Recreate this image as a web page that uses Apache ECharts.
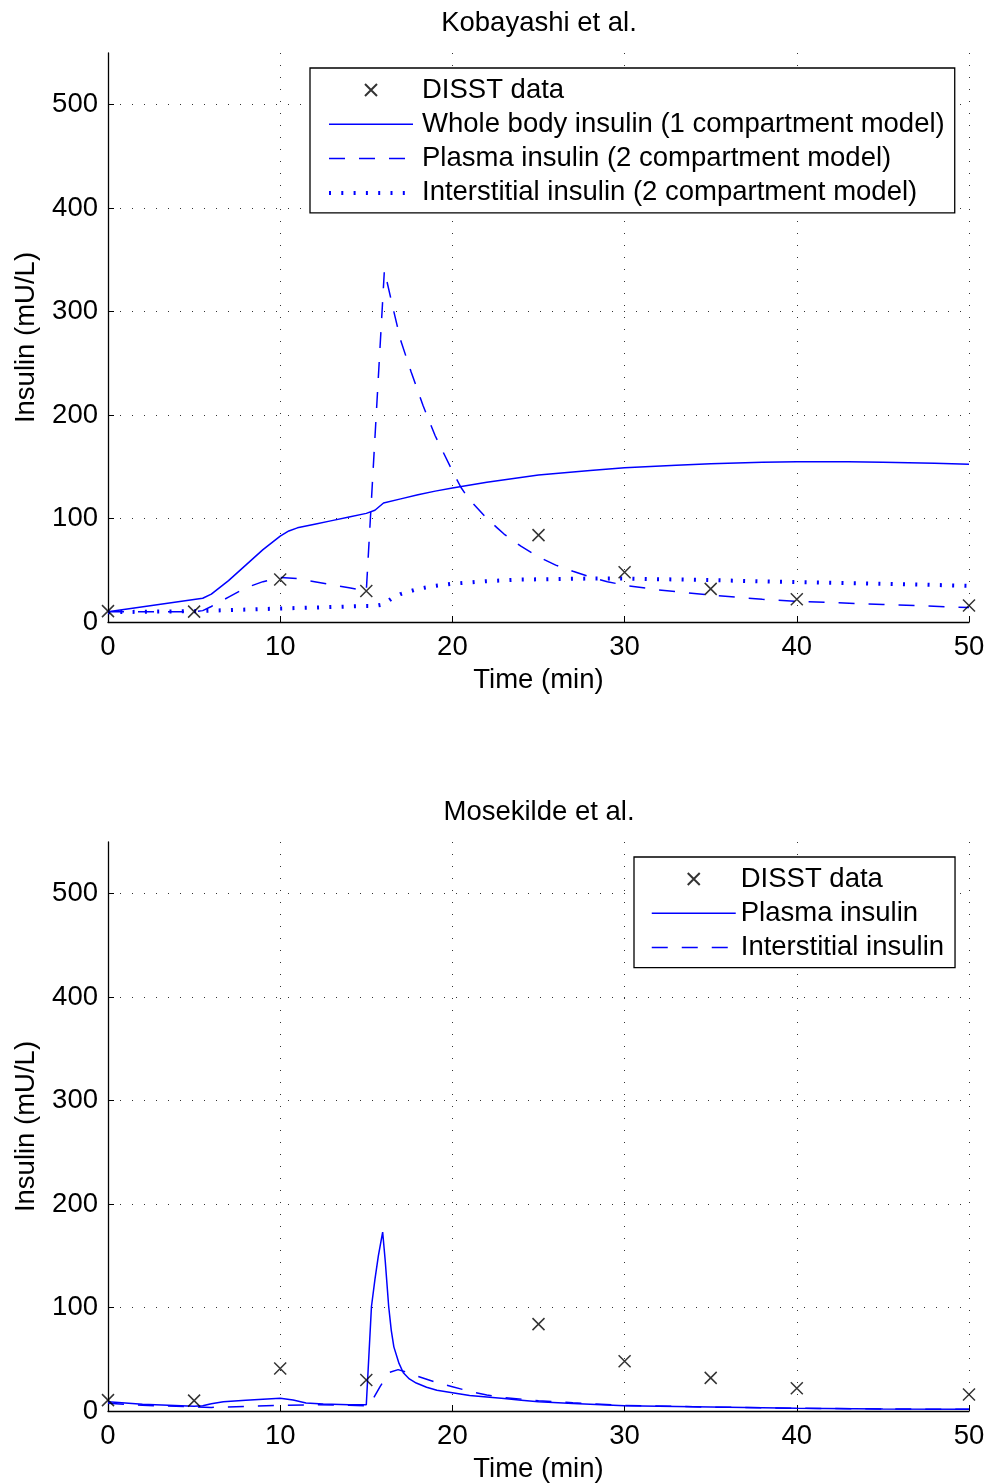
<!DOCTYPE html>
<html>
<head>
<meta charset="utf-8">
<script src="https://cdn.jsdelivr.net/npm/echarts@6/dist/echarts.min.js"></script>
<style>
html,body{margin:0;padding:0;background:#fff;}
#chart{width:990px;height:1484px;}
</style>
</head>
<body>
<div id="chart"></div>
<script>
// ---- data ----
const disstTime = [0, 5, 10, 15, 25, 30, 35, 40, 50];
const disstInsulin = [10.5, 10, 41, 30, 84, 48, 32, 22, 16];

// Kobayashi et al.
const kobWholeTime = [0, 5.5, 6, 7, 8, 9, 10, 10.5, 11, 12, 13, 14, 15, 15.5, 16, 17, 18, 19, 20, 22, 25, 28, 30, 33, 35, 38, 40, 43, 45, 48, 50];
const kobWholeVal  = [10, 23, 27, 40, 55, 70, 83, 88, 91, 94.5, 98, 101.5, 105, 108, 115, 119, 123, 126.5, 129.5, 135, 142, 146.5, 149, 151.5, 153, 154.5, 155, 155, 154.5, 153.5, 152.5];

const kobPlasmaTime = [0, 5, 5.5, 6, 7, 8, 9, 10, 11, 12, 13, 14, 15, 16.05, 16.6, 17, 17.6, 18.3, 19, 20, 20.5, 21, 21.4, 22, 22.6, 23, 24, 25, 26, 27, 28, 29, 30, 32, 35, 38, 40, 45, 50];
const kobPlasmaVal  = [10, 10, 11, 15, 24, 33, 39, 43, 42, 39, 36, 33, 30, 340, 300, 272, 242, 209, 180, 146, 130, 118, 111, 100, 91, 85, 73, 63, 55, 49, 43.5, 39, 35.5, 31, 26, 22, 20, 17, 14];

const kobInterTime = [0, 5, 10, 15, 15.5, 16, 16.5, 17, 18, 19, 20, 22, 24, 26, 28, 30, 35, 40, 45, 50];
const kobInterVal  = [9.5, 10.5, 13, 15.5, 15.5, 17, 23, 27, 32, 35, 37, 39.5, 41, 41.5, 42, 42, 40.5, 38.5, 37, 35];

// Mosekilde et al.
const mosPlasmaTime = [0, 2, 5, 5.5, 6, 6.7, 8, 10, 10.75, 11.5, 12.5, 14, 15, 15.3, 15.5, 15.7, 15.95, 16.1, 16.3, 16.45, 16.6, 16.9, 17.15, 17.5, 17.9, 18.5, 19.1, 20, 21, 22, 23, 24, 25, 27, 30, 35, 40, 45, 50];
const mosPlasmaVal  = [9, 6.5, 4.5, 5, 7, 9, 10.5, 12.3, 10.6, 7.7, 6.8, 6, 6, 101, 127, 150, 173, 145, 101, 78, 62, 46, 37, 31, 27, 23, 20, 17.7, 15, 13.5, 12, 10.5, 9, 7.3, 5, 3.8, 2.7, 2, 1.6];

const mosInterTime = [0, 2, 5, 6, 8, 10, 12, 14, 15, 15.3, 15.8, 16.3, 16.85, 17.25, 18, 19, 20, 21, 22, 23, 25, 27, 30, 35, 40, 45, 50];
const mosInterVal  = [7.5, 5.5, 4, 3.5, 4.5, 5.5, 6, 5.5, 5, 9, 23.5, 37, 40, 38, 33.5, 28, 23.5, 19, 15.5, 13, 10, 8, 5.3, 3.8, 2.7, 2, 1.6];

const xTickStep = 10, xMax = 50;
const yTickStep = 100, yMax = 550;

// ---- chart ----
const FONT = 'Liberation Sans, Arial, Helvetica, sans-serif';
const FS = 27.5;
const pairs = (t, v) => t.map((x, i) => [x, v[i]]);
const xSym = 'path://M0,0L10,10M10,0L0,10';
const DASH = [16, 14];
const DOT = [2, 10.3];

function xAxis(gi) {
  return {
    gridIndex: gi, type: 'value', min: 0, max: xMax, interval: xTickStep,
    name: 'Time (min)', nameLocation: 'middle', nameGap: 44,
    nameTextStyle: {fontSize: FS, color: '#000', fontFamily: FONT},
    axisLine: {lineStyle: {color: '#000', width: 1.3}},
    axisTick: {inside: true, length: 6, lineStyle: {color: '#000', width: 1}},
    axisLabel: {fontSize: FS, color: '#000', fontFamily: FONT, margin: 11},
    splitLine: {show: true, showMinLine: false, lineStyle: {color: '#333', width: 1, type: [1, 11]}}
  };
}
function yAxis(gi) {
  return {
    gridIndex: gi, type: 'value', min: 0, max: yMax, interval: yTickStep,
    name: 'Insulin (mU/L)', nameLocation: 'middle', nameGap: 68, nameRotate: 90,
    nameTextStyle: {fontSize: FS, color: '#000', fontFamily: FONT},
    axisLine: {lineStyle: {color: '#000', width: 1.3}},
    axisTick: {inside: true, length: 6, lineStyle: {color: '#000', width: 1}},
    axisLabel: {fontSize: FS, color: '#000', fontFamily: FONT, margin: 10, showMaxLabel: false,
      formatter: v => (v > 500 ? '' : String(v))},
    splitLine: {show: true, showMinLine: false, showMaxLine: false, lineStyle: {color: '#333', width: 1, type: [1, 11]}}
  };
}
function scatter(gi) {
  return {
    name: 'DISST data', type: 'scatter', xAxisIndex: gi, yAxisIndex: gi,
    data: pairs(disstTime, disstInsulin), symbol: xSym, symbolSize: 12, clip: false, z: 5,
    itemStyle: {color: 'rgba(0,0,0,0)', borderColor: '#000', borderWidth: 1.5},
    emphasis: {disabled: true}
  };
}
function line(gi, name, t, v, type, width) {
  return {
    name: name, type: 'line', xAxisIndex: gi, yAxisIndex: gi,
    data: pairs(t, v), symbol: 'none', showSymbol: false, smooth: false,
    lineStyle: {color: '#0000ff', width: width, type: type},
    itemStyle: {color: '#0000ff'},
    emphasis: {disabled: true}
  };
}
const lineItem = (name, width, type) => ({name: name, itemStyle: {opacity: 0},
  lineStyle: {width: width, type: type, color: '#0000ff'}});
const legendBase = {
  orient: 'vertical', itemWidth: 84, itemHeight: 12, itemGap: 6.3, selectedMode: false,
  borderColor: '#000', borderWidth: 1.3, backgroundColor: '#fff'
};
const legendText = pad => ({fontSize: FS, color: '#000', fontFamily: FONT, lineHeight: 27, padding: [0, 0, 0, pad]});

const option = {
  animation: false,
  backgroundColor: '#fff',
  title: [
    {text: 'Kobayashi et al.', left: 534, top: 4, textAlign: 'center',
     textStyle: {fontSize: FS, fontWeight: 'normal', color: '#000', fontFamily: FONT}},
    {text: 'Mosekilde et al.', left: 534, top: 793, textAlign: 'center',
     textStyle: {fontSize: FS, fontWeight: 'normal', color: '#000', fontFamily: FONT}}
  ],
  grid: [
    {left: 108, top: 53, width: 861, height: 569},
    {left: 108, top: 842, width: 861, height: 569}
  ],
  xAxis: [xAxis(0), xAxis(1)],
  yAxis: [yAxis(0), yAxis(1)],
  legend: [
    Object.assign({}, legendBase, {left: 310, top: 68, padding: [8, 10, 6, 17], textStyle: legendText(4),
      data: ['DISST data',
        lineItem('Whole body insulin (1 compartment model)', 1.5, 'solid'),
        lineItem('Plasma insulin (2 compartment model)', 1.5, DASH),
        lineItem('Interstitial insulin (2 compartment model)', 4, DOT)]}),
    Object.assign({}, legendBase, {left: 634, top: 857, padding: [8, 11, 6, 17], textStyle: legendText(0),
      data: ['DISST data',
        lineItem('Plasma insulin', 1.5, 'solid'),
        lineItem('Interstitial insulin', 1.5, DASH)]})
  ],
  series: [
    scatter(0),
    line(0, 'Whole body insulin (1 compartment model)', kobWholeTime, kobWholeVal, 'solid', 1.5),
    line(0, 'Plasma insulin (2 compartment model)', kobPlasmaTime, kobPlasmaVal, DASH, 1.5),
    line(0, 'Interstitial insulin (2 compartment model)', kobInterTime, kobInterVal, DOT, 4),
    scatter(1),
    line(1, 'Plasma insulin', mosPlasmaTime, mosPlasmaVal, 'solid', 1.5),
    line(1, 'Interstitial insulin', mosInterTime, mosInterVal, DASH, 1.5)
  ]
};
const chart = echarts.init(document.getElementById('chart'), null, {renderer: 'canvas'});
chart.setOption(option);
</script>
</body>
</html>
